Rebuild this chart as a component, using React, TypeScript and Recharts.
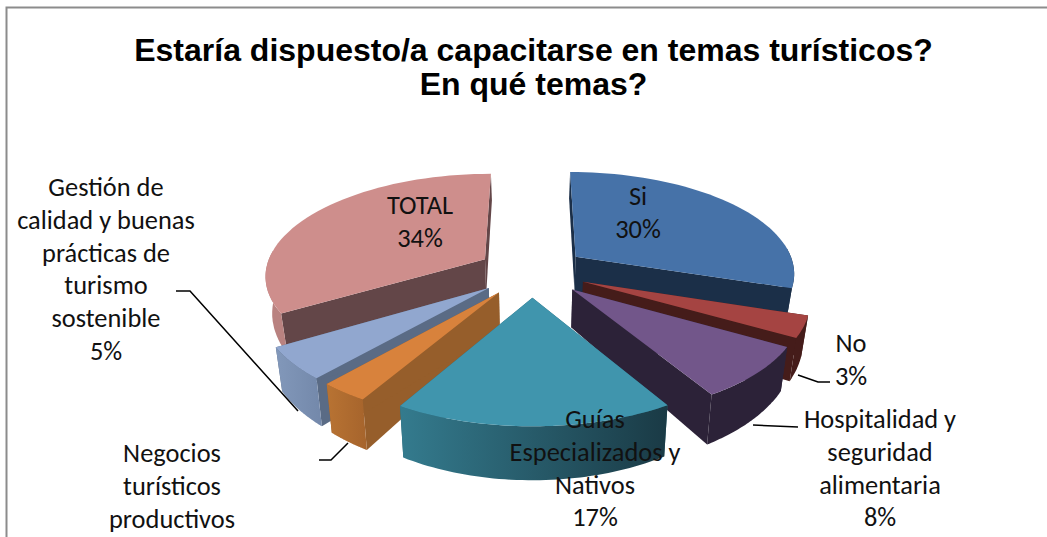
import { Pie, PieChart } from 'recharts';

const TITLE_LINES = ['Estaría dispuesto/a capacitarse en temas turísticos?', 'En qué temas?'];

const categories = [
  'Si',
  'No',
  'Hospitalidad y seguridad alimentaria',
  'Guías Especializados y Nativos',
  'Negocios turísticos productivos',
  'Gestión de calidad y buenas prácticas de turismo sostenible',
  'TOTAL',
];
const shares = [30, 3.3, 8.1, 17, 3, 5, 33.6];

const labelLines = [
  ['Si'],
  ['No'],
  ['Hospitalidad y', 'seguridad', 'alimentaria'],
  ['Guías', 'Especializados y', 'Nativos'],
  ['Negocios', 'turísticos', 'productivos'],
  ['Gestión de', 'calidad y buenas', 'prácticas de', 'turismo', 'sostenible'],
  ['TOTAL'],
];

// back to front, so the nearer slices cover the walls of the farther ones
const paintOrder = [0, 6, 1, 5, 2, 4, 3];

const topColors = ['#4672a8', '#a54442', '#72568a', '#4095ad', '#d8823c', '#91a7cf', '#ce8e8c'];
const sideColors = ['#1b2f48', '#451c1a', '#2c2238', '#2a6474', '#965e2b', '#5a6b85', '#634648'];
const rimFrom = ['#1b2f48', '#451c1a', '#2c2238', '#347b8e', '#b87333', '#8298ba', '#b98280'];
const rimTo = ['#1b2f48', '#451c1a', '#2c2238', '#1a3a45', '#a6642c', '#7388aa', '#b98280'];

const labelAnchors: [number, number][] = [
  [638, 196],
  [851, 343],
  [880, 419],
  [595, 419],
  [172, 453],
  [106, 187],
  [420, 205],
];

const leaderLines = [
  '798,375 818,382 830,382',
  '753,425 798,427',
  '348,443 331,460 319,460',
  '176,291 190,291 298,411',
];

const tableData = categories.map((name, i) => ({ name, value: shares[i] }));

const EXPLODE = 55;
const CAMERA = 1500;
const TILT = 0.46;
const DEPTH = 36;
const LINE_HEIGHT = 32.8;
const WIDTH = 1047;
const HEIGHT = 537;

// ground-plane point (x right, z away) -> screen, with the wall bottom option
function project(cx: number, cy: number, x: number, z: number, bottom: boolean) {
  const s = CAMERA / (CAMERA + z);
  const sx = cx + x * s;
  const sy = cy - TILT * z * s;
  if (!bottom) return [sx, sy];
  return [cx + (sx - cx) * 0.975, sy + DEPTH * s * s];
}

function SliceLayer(props: any) {
  const { cx, cy, outerRadius, startAngle, endAngle, name, only } = props;
  const idx = categories.indexOf(name);
  if (idx !== only) return null;

  // clockwise degrees from 12 o'clock
  const a0 = 90 - startAngle;
  const a1 = 90 - endAngle;
  const mid = (((a0 + a1) / 2) * Math.PI) / 180;
  const ox = EXPLODE * Math.sin(mid);
  const oz = EXPLODE * Math.cos(mid);

  const rim = (deg: number, bottom: boolean) => {
    const t = (deg * Math.PI) / 180;
    return project(cx, cy, ox + outerRadius * Math.sin(t), oz + outerRadius * Math.cos(t), bottom);
  };
  const arc = (from: number, to: number, bottom: boolean) => {
    const pts = [];
    for (let i = 0; i <= 48; i++) pts.push(rim(from + ((to - from) * i) / 48, bottom));
    return pts;
  };
  const poly = (pts: number[][]) => 'M' + pts.map((p) => `${p[0].toFixed(1)},${p[1].toFixed(1)}`).join('L') + 'Z';

  const apexTop = project(cx, cy, ox, oz, false);
  const apexBot = project(cx, cy, ox, oz, true);
  const gradId = `rim-${idx}`;

  // only the part of the rim that faces the viewer gets a wall
  const f0 = Math.max(a0, 85);
  const f1 = Math.min(a1, 275);

  return (
    <g>
      <defs>
        <linearGradient id={gradId} x1="0" y1="0" x2="1" y2="0">
          <stop offset="0%" stopColor={rimFrom[idx]} />
          <stop offset="100%" stopColor={rimTo[idx]} />
        </linearGradient>
      </defs>
      <path d={poly([apexTop, rim(a0, false), rim(a0, true), apexBot])} fill={sideColors[idx]} />
      <path d={poly([apexTop, rim(a1, false), rim(a1, true), apexBot])} fill={sideColors[idx]} />
      {f1 > f0 && <path d={poly([...arc(f0, f1, false), ...arc(f1, f0, true)])} fill={`url(#${gradId})`} />}
      <path d={poly([apexTop, ...arc(a0, a1, false)])} fill={topColors[idx]} />
    </g>
  );
}

function SliceLabel(props: any) {
  const idx = categories.indexOf(props.name);
  const [x, y] = labelAnchors[idx];
  const lines = [...labelLines[idx], `${Math.round(props.percent * 100)}%`];
  return (
    <text
      textAnchor="middle"
      dominantBaseline="central"
      style={{ fontFamily: 'Carlito, Lato, sans-serif', fontSize: 26.4 }}
      fill="#111"
    >
      {lines.map((line, i) =>
        // the reference crops whatever falls below the page
        y + i * LINE_HEIGHT + 10 > HEIGHT ? null : (
          <tspan key={i} x={x} y={y + i * LINE_HEIGHT}>
            {line}
          </tspan>
        ),
      )}
    </text>
  );
}

export default function App() {
  return (
    <div style={{ position: 'relative', width: WIDTH, height: HEIGHT, overflow: 'hidden', background: '#fff' }}>
      <style>{'body{margin:0}'}</style>
      <div
        style={{
          position: 'absolute',
          left: 0,
          top: 33,
          width: 1067,
          textAlign: 'center',
          fontFamily: '"Liberation Sans", Arial, sans-serif',
          fontWeight: 700,
          fontSize: 32,
          lineHeight: '34px',
          color: '#000',
        }}
      >
        {TITLE_LINES.map((line) => (
          <div key={line}>{line}</div>
        ))}
      </div>
      <div style={{ position: 'absolute', left: 0, top: 0 }}>
        <PieChart width={WIDTH} height={HEIGHT} margin={{ top: 0, right: 0, bottom: 0, left: 0 }}>
          {paintOrder.map((only, layer) => (
            <Pie
              key={only}
              data={tableData}
              dataKey="value"
              nameKey="name"
              cx={532}
              cy={271.4}
              innerRadius={0}
              outerRadius={220}
              startAngle={90}
              endAngle={-270}
              stroke="none"
              isAnimationActive={false}
              shape={(p: any) => <SliceLayer {...p} only={only} />}
              label={layer === paintOrder.length - 1 ? SliceLabel : false}
              labelLine={false}
            />
          ))}
        </PieChart>
      </div>
      <svg width={WIDTH} height={HEIGHT} style={{ position: 'absolute', left: 0, top: 0, pointerEvents: 'none' }}>
        <polyline points={`6.5,${HEIGHT} 6.5,7.5 ${WIDTH},7.5`} fill="none" stroke="#8c8c8c" strokeWidth={2} />
        {leaderLines.map((pts) => (
          <polyline key={pts} points={pts} fill="none" stroke="#000" strokeWidth={1.5} />
        ))}
      </svg>
    </div>
  );
}
